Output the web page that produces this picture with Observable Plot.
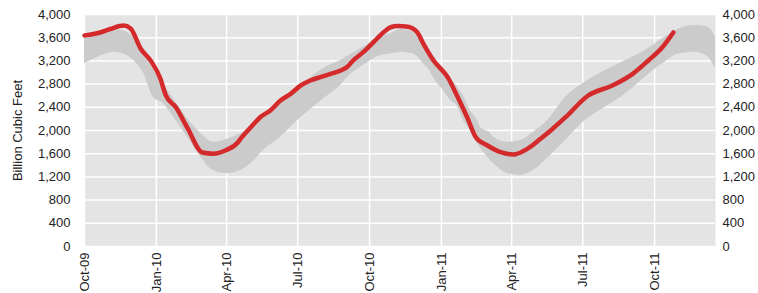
<!DOCTYPE html>
<html>
<head>
<meta charset="utf-8">
<script src="https://cdn.jsdelivr.net/npm/d3@7"></script>
<script src="https://cdn.jsdelivr.net/npm/@observablehq/plot@0.6"></script>
<style>
  html, body { margin: 0; padding: 0; background: #fff; }
  #chart svg { display: block; }
</style>
</head>
<body>
<div id="chart"></div>
<script>
// Working gas in storage (red line)
const storageDates = ["2009-10-01","2009-10-21","2009-11-03","2009-11-20","2009-11-29","2009-12-12","2009-12-25","2010-01-06","2010-01-13","2010-01-26","2010-02-10","2010-03-01","2010-03-15","2010-03-31","2010-04-15","2010-04-19","2010-05-02","2010-05-14","2010-05-27","2010-06-09","2010-06-22","2010-07-05","2010-07-17","2010-07-30","2010-08-12","2010-08-25","2010-09-03","2010-09-10","2010-09-23","2010-10-06","2010-10-19","2010-10-28","2010-11-06","2010-11-19","2010-12-01","2010-12-09","2010-12-22","2011-01-09","2011-01-22","2011-02-03","2011-02-14","2011-03-01","2011-03-18","2011-04-03","2011-04-21","2011-05-08","2011-05-21","2011-06-09","2011-07-08","2011-08-08","2011-09-03","2011-09-23","2011-10-11","2011-10-25"];
const storageValues = [3640,3690,3750,3810,3760,3410,3200,2900,2610,2400,2040,1620,1600,1660,1790,1860,2057,2229,2345,2517,2632,2776,2862,2919,2977,3034,3103,3207,3350,3522,3694,3780,3800,3790,3694,3494,3207,2919,2574,2229,1885,1741,1626,1586,1684,1857,2000,2229,2603,2776,2977,3207,3436,3690];

// Five-year range (grey band)
const bandDates = ["2009-10-01","2009-10-18","2009-11-07","2009-11-20","2009-12-03","2009-12-16","2009-12-28","2010-01-10","2010-01-23","2010-02-10","2010-02-27","2010-03-15","2010-04-02","2010-05-02","2010-05-18","2010-06-09","2010-07-01","2010-07-21","2010-07-30","2010-08-12","2010-08-25","2010-09-03","2010-09-23","2010-10-15","2010-10-28","2010-11-10","2010-11-26","2010-12-01","2010-12-09","2010-12-14","2010-12-27","2010-12-31","2011-01-13","2011-01-22","2011-01-29","2011-02-07","2011-02-16","2011-02-20","2011-03-05","2011-03-09","2011-03-27","2011-04-12","2011-04-29","2011-05-17","2011-06-09","2011-07-04","2011-07-30","2011-08-25","2011-09-19","2011-10-11","2011-11-01","2011-11-22","2011-12-09","2011-12-18"];
const bandHigh = [3640,3690,3740,3720,3600,3350,3050,2800,2550,2200,1950,1800,1850,2050,2229,2480,2690,2950,3034,3130,3207,3280,3436,3608,3670,3740,3700,3608,3480,3379,3150,3091,2880,2747,2600,2345,2180,2057,1950,1885,1798,1827,1971,2172,2574,2833,3034,3207,3379,3580,3752,3810,3780,3608];
const bandLow = [3150,3264,3350,3321,3207,2977,2574,2465,2229,1885,1540,1310,1253,1425,1655,1885,2172,2401,2500,2632,2780,2919,3120,3293,3321,3350,3321,3280,3149,3080,2805,2750,2517,2400,2172,2000,1776,1700,1483,1430,1253,1224,1310,1520,1827,2172,2401,2632,2919,3149,3321,3350,3264,3063];

const xTickDates = ["2009-10-01","2010-01-01","2010-04-01","2010-07-01","2010-10-01","2011-01-01","2011-04-01","2011-07-01","2011-10-01"];
const yTicks = [0,400,800,1200,1600,2000,2400,2800,3200,3600,4000];
const xDomain = ["2009-10-01","2011-12-18"];
const yLabel = "Billion Cubic Feet";

const parse = d3.utcParse("%Y-%m-%d");
const storage = storageDates.map((d, i) => ({date: parse(d), value: storageValues[i]}));
const band = bandDates.map((d, i) => ({date: parse(d), low: bandLow[i], high: bandHigh[i]}));
const xTicks = xTickDates.map(parse);

const chart = Plot.plot({
  width: 758,
  height: 293,
  marginLeft: 84,
  marginRight: 43,
  marginTop: 14,
  marginBottom: 47,
  style: {fontFamily: "'Liberation Sans', Arial, Helvetica, sans-serif", fontSize: "13px", color: "#222", background: "#fff"},
  x: {type: "utc", domain: xDomain.map(parse)},
  y: {domain: [0, 4000]},
  marks: [
    Plot.frame({fill: "#e4e4e4", stroke: null}),
    Plot.gridX(xTicks, {stroke: "#fff", strokeOpacity: 1, strokeWidth: 1.5}),
    Plot.gridY(yTicks, {stroke: "#fff", strokeOpacity: 1, strokeWidth: 1.5}),
    Plot.areaY(band, {x: "date", y1: "low", y2: "high", fill: "#cbcbcb", curve: "monotone-x"}),
    Plot.lineY(storage, {x: "date", y: "value", stroke: "#d42a2c", strokeWidth: 4.5, curve: "monotone-x"}),
    Plot.axisY(yTicks, {anchor: "left", tickSize: 0, tickPadding: 14, tickFormat: d3.format(","), label: null, fontSize: 13}),
    Plot.axisY(yTicks, {anchor: "right", tickSize: 0, tickPadding: 7, tickFormat: d3.format(","), label: null, fontSize: 13}),
    Plot.axisX(xTicks, {anchor: "bottom", tickSize: 0, tickPadding: 6, tickRotate: -90, tickFormat: d3.utcFormat("%b-%y"), label: null, fontSize: 13}),
    Plot.text([yLabel], {frameAnchor: "left", dx: -67, rotate: -90, textAnchor: "middle", text: d => d, fontSize: 13, fill: "#222"})
  ]
});
document.getElementById("chart").appendChild(chart);
</script>
</body>
</html>
